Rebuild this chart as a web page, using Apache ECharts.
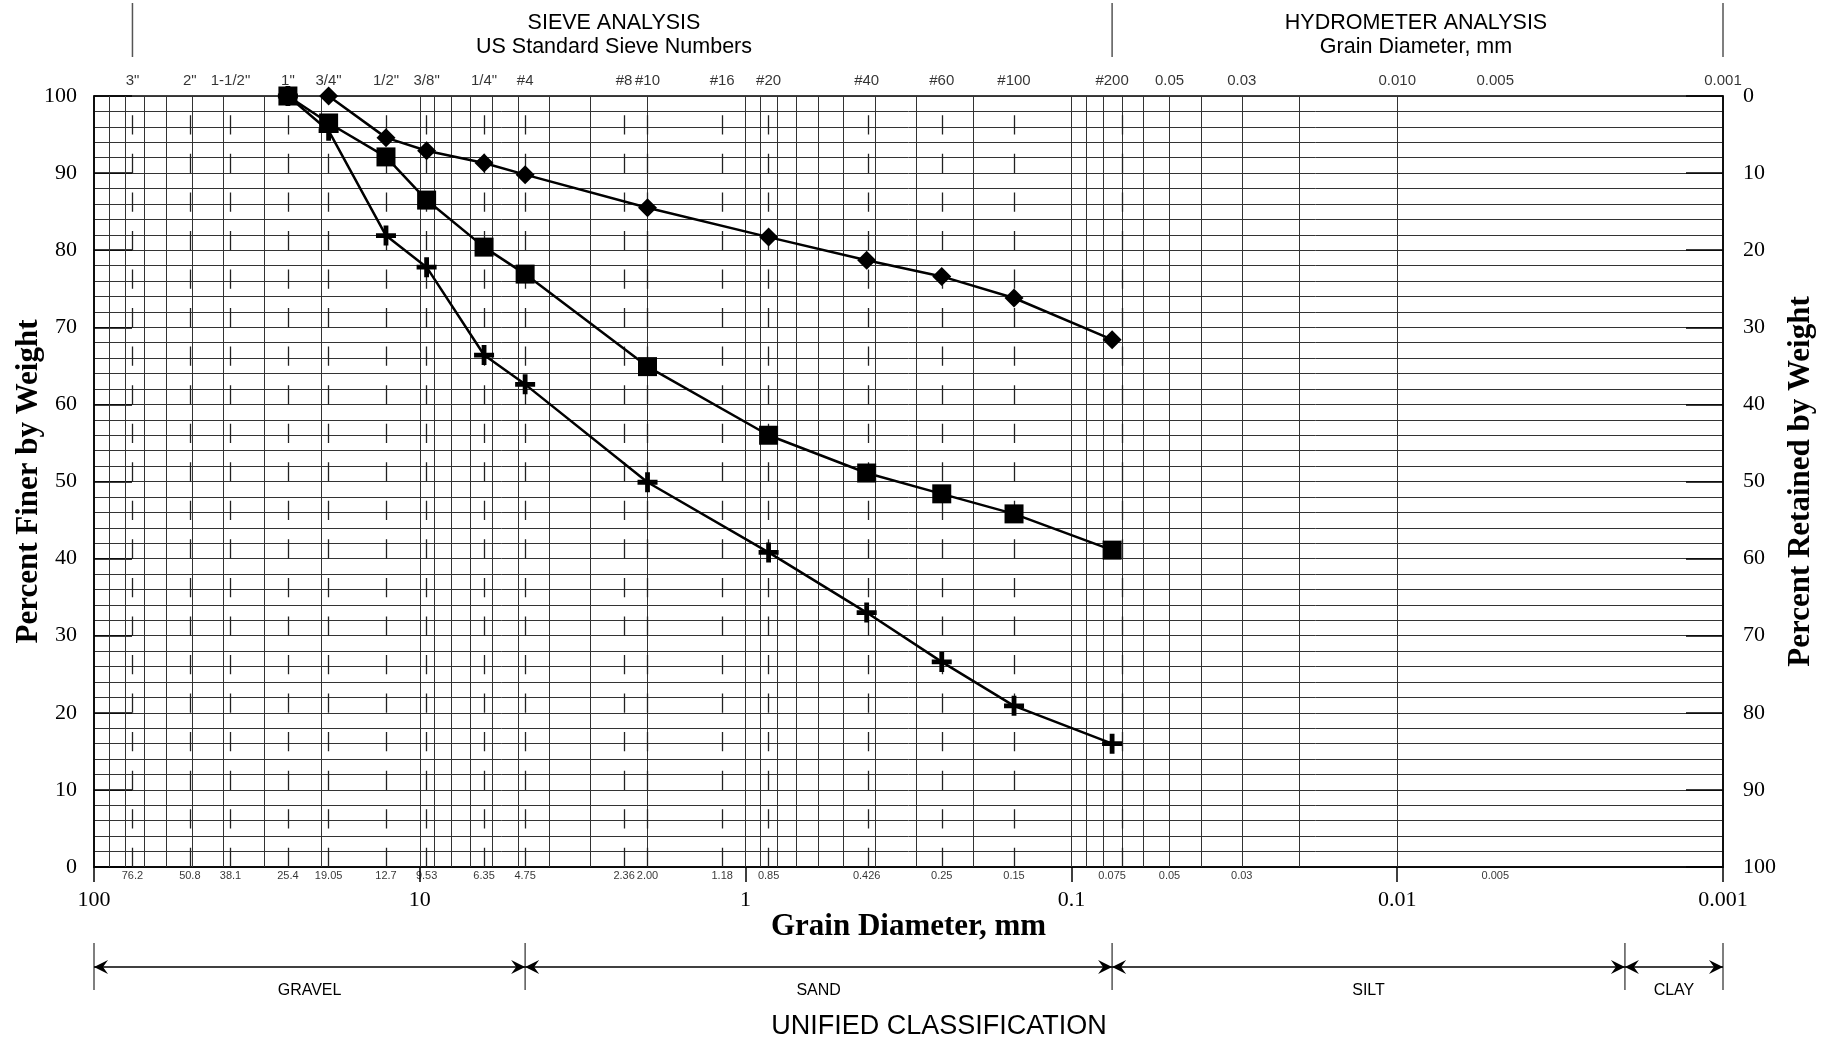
<!DOCTYPE html>
<html>
<head>
<meta charset="utf-8">
<title>Grain Size Distribution</title>
<script src="https://cdn.jsdelivr.net/npm/echarts@6/dist/echarts.min.js"></script>
<style>
html, body { margin: 0; padding: 0; background: #fff; }
#chart { width: 1827px; height: 1040px; }
</style>
</head>
<body>
<div id="chart"></div>
<script>
// sieve openings (mm) and percent finer of the three samples
var sieveSizes    = [25.4, 19.05, 12.7, 9.53, 6.35, 4.75, 2.00, 0.85, 0.425, 0.25, 0.15, 0.075];
var sampleDiamond = [null, 100, 94.6, 92.9, 91.3, 89.8, 85.5, 81.7, 78.7, 76.6, 73.8, 68.4];
var sampleSquare  = [100, 96.5, 92.1, 86.5, 80.4, 76.9, 64.9, 56.0, 51.1, 48.4, 45.8, 41.1];
var sampleCross   = [100, 95.5, 81.9, 77.8, 66.4, 62.6, 49.9, 40.8, 33.0, 26.6, 20.9, 16.0];

// dashed lines at standard sieve openings
var dashSizes = [76.2, 50.8, 38.1, 25.4, 19.05, 12.7, 9.53, 6.35, 4.75, 2.36, 2.00, 1.18, 0.85, 0.425, 0.25, 0.15, 0.075];

// labels above the plot
var topLabelSizes = [76.2, 50.8, 38.1, 25.4, 19.05, 12.7, 9.53, 6.35, 4.75, 2.36, 2.00, 1.18, 0.85, 0.425, 0.25, 0.15, 0.075, 0.05, 0.03, 0.01, 0.005, 0.001];
var topLabelTexts = ['3"', '2"', '1-1/2"', '1"', '3/4"', '1/2"', '3/8"', '1/4"', '#4', '#8', '#10', '#16', '#20', '#40', '#60', '#100', '#200', '0.05', '0.03', '0.010', '0.005', '0.001'];

// small labels under the plot
var bottomLabelSizes = [76.2, 50.8, 38.1, 25.4, 19.05, 12.7, 9.53, 6.35, 4.75, 2.36, 2.00, 1.18, 0.85, 0.425, 0.25, 0.15, 0.075, 0.05, 0.03, 0.005];
var bottomLabelTexts = ['76.2', '50.8', '38.1', '25.4', '19.05', '12.7', '9.53', '6.35', '4.75', '2.36', '2.00', '1.18', '0.85', '0.426', '0.25', '0.15', '0.075', '0.05', '0.03', '0.005'];

// unified classification
var classBounds = [100, 4.75, 0.075, 0.002, 0.001];
var classNames = ['GRAVEL', 'SAND', 'SILT', 'CLAY'];

// separators of the header
var headerBounds = [76.2, 0.075, 0.001];

var serif = '"Liberation Serif", "Times New Roman", serif';
var sans = '"Liberation Sans", Arial, sans-serif';

function pairs(vals) {
    var out = [];
    for (var i = 0; i < sieveSizes.length; i++) {
        if (vals[i] != null) out.push([sieveSizes[i], vals[i]]);
    }
    return out;
}

// log cycle lines 1..9 of every decade
var cycleLines = [];
for (var e = -3; e <= 1; e++) {
    for (var m = 1; m <= 9; m++) {
        var v = +(m * Math.pow(10, e)).toPrecision(3);
        if (v > 0.001) cycleLines.push(v);
    }
}

var chart = echarts.init(document.getElementById('chart'));

function dataSeries(name, vals, symbol, size) {
    return {
        name: name, type: 'line', xAxisIndex: 0, yAxisIndex: 0,
        data: pairs(vals), symbol: symbol, symbolSize: size,
        showAllSymbol: true, z: 5,
        itemStyle: { color: '#000' },
        lineStyle: { color: '#000', width: 2.5 }
    };
}

function headText(x, y, size, text) {
    return {
        type: 'text', x: x, y: y, z: 10,
        style: {
            text: text, font: size + 'px ' + sans, fill: '#000',
            align: 'center', verticalAlign: 'middle', textAlign: 'center', textVerticalAlign: 'middle'
        }
    };
}

var headTexts = [
    headText(614, 23, 21.5, 'SIEVE ANALYSIS'),
    headText(614, 47, 21.5, 'US Standard Sieve Numbers'),
    headText(1416, 23, 21.5, 'HYDROMETER ANALYSIS'),
    headText(1416, 47, 21.5, 'Grain Diameter, mm'),
    headText(939, 1027, 27, 'UNIFIED CLASSIFICATION')
];

var option = {
    animation: false,
    backgroundColor: '#fff',
    grid: {
        left: 94, right: 104, top: 96, height: 771, show: true,
        borderColor: '#000', borderWidth: 1.5, outerBoundsMode: 'none', containLabel: false
    },
    xAxis: {
        type: 'log', logBase: 10, min: 0.001, max: 100, inverse: true,
        axisLine: { show: true, lineStyle: { color: '#000', width: 1.5 } },
        axisTick: { show: true, length: 15, lineStyle: { color: '#000', width: 1.5 } },
        splitLine: { show: false },
        axisLabel: {
            margin: 22, color: '#000', fontFamily: serif, fontSize: 22,
            formatter: function (v) { return String(+(+v).toPrecision(4)); }
        },
        name: 'Grain Diameter, mm', nameLocation: 'middle', nameGap: 44, nameMoveOverlap: false,
        nameTextStyle: { fontFamily: serif, fontWeight: 'bold', fontSize: 31, color: '#000' }
    },
    yAxis: [
        {
            type: 'value', position: 'left', min: 0, max: 100, interval: 10,
            axisLine: { show: true, lineStyle: { color: '#000', width: 1.5 } },
            axisTick: { show: true, inside: true, length: 38, lineStyle: { color: '#000', width: 1.5 } },
            axisLabel: { margin: 17, color: '#000', fontFamily: serif, fontSize: 22 },
            splitLine: { show: true, lineStyle: { color: '#333', width: 1 } },
            minorTick: { show: false, splitNumber: 5 },
            minorSplitLine: { show: true, lineStyle: { color: '#333', width: 1 } },
            name: 'Percent Finer by Weight', nameLocation: 'middle', nameGap: 50, nameMoveOverlap: false,
            nameTextStyle: { fontFamily: serif, fontWeight: 'bold', fontSize: 31, color: '#000' }
        },
        {
            type: 'value', position: 'right', min: 0, max: 100, interval: 10, inverse: true,
            axisLine: { show: true, lineStyle: { color: '#000', width: 1.5 } },
            axisTick: { show: true, inside: true, length: 37, lineStyle: { color: '#000', width: 1.5 } },
            axisLabel: { margin: 20, color: '#000', fontFamily: serif, fontSize: 22 },
            splitLine: { show: false },
            name: 'Percent Retained by Weight', nameLocation: 'middle', nameGap: 62, nameRotate: 90, nameMoveOverlap: false,
            nameTextStyle: { fontFamily: serif, fontWeight: 'bold', fontSize: 31, color: '#000' }
        }
    ],
    graphic: headTexts,
    series: [
        // log cycle grid
        {
            type: 'line', data: [], z: 1,
            markLine: {
                silent: true, symbol: 'none', animation: false,
                label: { show: false },
                lineStyle: { color: '#333', width: 1, type: 'solid' },
                data: cycleLines.map(function (v) { return { xAxis: v }; })
            }
        },
        // sieve openings, dashed
        {
            type: 'line', data: [], z: 2,
            markLine: {
                silent: true, symbol: 'none', animation: false,
                label: { show: false },
                lineStyle: { color: '#222', width: 1.3, type: [19.275, 19.275] },
                data: dashSizes.map(function (v) { return { xAxis: v }; })
            }
        },
        dataSeries('Sample C', sampleCross, 'path://M3.8,0H6.2V3.8H10V6.2H6.2V10H3.8V6.2H0V3.8H3.8Z', 20),
        dataSeries('Sample A', sampleDiamond, 'diamond', 19),
        dataSeries('Sample B', sampleSquare, 'rect', 19),
        // sieve names above the plot
        {
            type: 'scatter', clip: false, silent: true,
            symbolSize: 1, itemStyle: { color: 'rgba(0,0,0,0)' },
            data: topLabelSizes.map(function (s, i) { return { value: [s, 100], name: topLabelTexts[i] }; }),
            label: { show: true, position: 'top', distance: 7, color: '#000', fontFamily: sans, fontSize: 15, formatter: '{b}' }
        },
        // openings in mm under the plot
        {
            type: 'scatter', clip: false, silent: true,
            symbolSize: 1, itemStyle: { color: 'rgba(0,0,0,0)' },
            data: bottomLabelSizes.map(function (s, i) { return { value: [s, 0], name: bottomLabelTexts[i] }; }),
            label: { show: true, position: 'bottom', distance: 3, color: '#000', fontFamily: sans, fontSize: 11, formatter: '{b}' }
        }
    ]
};

chart.setOption(option);

// header separators and classification row, placed with the grain-size axis
function px(v) { return chart.convertToPixel({ xAxisIndex: 0 }, v); }

var deco = headTexts.slice();
var barStyle = { stroke: '#555', lineWidth: 1.5 };
headerBounds.forEach(function (v) {
    var x = px(v);
    deco.push({ type: 'line', shape: { x1: x, y1: 3, x2: x, y2: 57 }, style: barStyle });
});
classBounds.forEach(function (v) {
    var x = px(v);
    deco.push({ type: 'line', shape: { x1: x, y1: 943, x2: x, y2: 990 }, style: barStyle });
});
var ay = 967;
function arrowHead(x, dir) {
    // dir = -1 points left, +1 points right; tip sits at x
    return {
        type: 'polygon', z: 5,
        shape: { points: [[x, ay], [x - dir * 14, ay - 7], [x - dir * 9, ay], [x - dir * 14, ay + 7]] },
        style: { fill: '#000' }
    };
}
classNames.forEach(function (n, i) {
    var xa = px(classBounds[i]), xb = px(classBounds[i + 1]);
    deco.push({ type: 'line', shape: { x1: xa, y1: ay, x2: xb, y2: ay }, style: { stroke: '#000', lineWidth: 1.5 } });
    deco.push(arrowHead(xa, -1));
    deco.push(arrowHead(xb, 1));
    deco.push(headText(px(Math.sqrt(classBounds[i] * classBounds[i + 1])), 991, 16, n));
});

chart.setOption({ graphic: deco }, { replaceMerge: ['graphic'] });
window.onresize = function () { chart.resize(); };
</script>
</body>
</html>
